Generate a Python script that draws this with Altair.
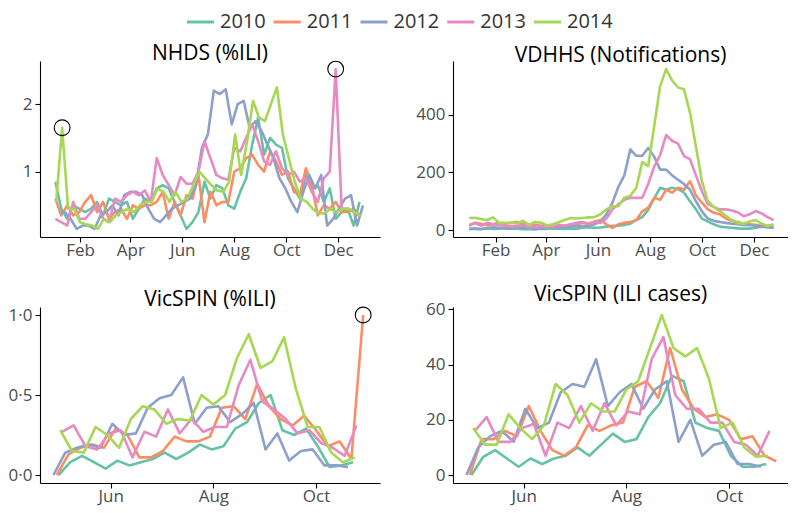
import altair as alt
import pandas as pd

YEARS = ["2010", "2011", "2012", "2013", "2014"]
COLORS = ["#66c2a5", "#fc8d62", "#8da0cb", "#e78ac3", "#a6d854"]

# ---------------- NHDS (%ILI), weekly from early January ----------------
nhds_2010 = [0.85,0.45,0.30,0.50,0.45,0.40,0.45,0.55,0.35,0.60, 0.55,0.50,0.55,0.30,0.45,0.60,0.55,0.75,0.80,0.75,
             0.55,0.35,0.15,0.25,0.40,0.85,0.60,0.80,0.75,0.50, 0.45,0.70,0.90,1.40,1.80,1.25,1.50,1.40,1.35,0.90,
             0.75,0.60,0.95,0.75,0.80,0.55,0.75,0.30,0.40,0.45, 0.20,0.55]
nhds_2011 = [0.60,0.35,0.50,0.35,0.40,0.55,0.65,0.40,0.55,0.30, 0.40,0.45,0.30,0.50,0.45,0.50,0.50,0.55,0.70,0.30,
             0.55,0.35,0.65,0.60,0.95,0.25,0.70,0.50,0.55,0.55, 1.00,1.05,1.20,1.25,1.10,1.00,1.30,1.15,0.95,1.00,
             0.70,0.65,1.05,0.80,0.35,0.50,0.45,0.55,0.40,0.40, 0.45,0.35]
nhds_2012 = [0.40,0.40,0.30,0.15,0.20,0.20,0.15,0.35,0.40,0.50, 0.35,0.65,0.70,0.70,0.65,0.45,0.30,0.25,0.35,0.45,
             0.50,0.55,0.60,0.80,1.35,1.55,2.20,2.15,2.22,1.70, 2.00,2.05,1.65,1.75,1.60,1.40,1.20,0.90,0.75,0.55,
             0.40,0.70,0.95,0.75,0.95,0.20,0.30,0.45,0.60,0.65, 0.20,0.50]
nhds_2013 = [0.30,0.25,0.20,0.55,0.30,0.30,0.40,0.50,0.30,0.25, 0.60,0.55,0.65,0.70,0.65,0.72,0.55,1.20,0.95,0.80,
             0.65,0.92,0.82,0.82,1.00,1.45,1.20,0.95,0.90,0.88, 1.35,1.30,1.50,1.70,1.45,1.15,1.10,1.30,1.05,0.95,
             1.00,0.85,0.90,0.70,0.55,0.90,1.00,2.52,0.45,0.45, 0.40,0.35]
nhds_2014 = [0.55,1.65,0.45,0.45,0.25,0.22,0.20,0.15,0.30,0.25, 0.35,0.40,0.45,0.40,0.50,0.55,0.55,0.75,0.70,0.55,
             0.70,0.55,0.60,0.80,1.00,0.90,0.80,0.72,0.70,0.85, 1.55,0.95,1.45,2.05,1.80,1.75,2.00,2.25,1.55,1.20,
             0.85,0.60,0.55,0.45,0.38,0.38,0.45,0.40,0.45,0.45, 0.40,0.35]

# ---------------- VDHHS (notifications), weekly from January ----------------
vd_2010 = [3,5,4,6,4,5,8,6,5,3, 4,2,5,4,6,5,4,6,5,8, 10,8,9,12,15,15,18,22,35,45,
           70,110,147,140,147,142,130,100,72,40, 30,20,12,10,8,6,5,5,8,12, 15,15]
vd_2011 = [15,25,22,18,20,25,22,25,28,22, 20,18,15,12,10,12,15,18,20,25, 22,30,35,20,8,20,25,28,35,65,
           78,112,105,140,130,147,140,170,120,95, 72,60,55,40,32,28,22,20,18,15, 10,8]
vd_2012 = [5,5,3,8,10,8,5,5,8,10, 8,6,5,8,10,8,10,12,15,12, 15,20,30,55,95,150,190,280,258,258,
           285,255,210,210,190,175,160,140,100,65, 40,32,28,25,22,20,18,17,15,12, 10,8]
vd_2013 = [18,25,15,25,20,18,15,12,15,18, 10,12,15,10,12,18,15,20,25,28, 20,28,25,40,72,90,105,112,112,112,
           160,220,260,330,310,300,257,246,190,135, 90,80,72,72,68,62,48,55,66,58, 45,35]
vd_2014 = [42,43,38,35,44,25,25,25,24,32, 18,28,26,17,20,27,35,42,40,42, 44,45,55,72,83,83,112,118,147,236,
           222,360,500,559,520,495,489,408,290,170, 100,80,66,50,35,25,22,30,35,22, 14,20]

# ---------------- VicSPIN (%ILI), weekly from late April ----------------
vp_2010 = [0.00,0.08,0.12,0.08,0.04,0.09,0.06,0.08,0.10,0.14,0.10,0.14,0.19,0.16,0.18,0.29,0.33,0.45,0.50,0.28,0.25,0.29,0.18,0.05,0.06,0.08]
vp_2011 = [0.00,0.13,0.17,0.19,0.17,0.29,0.25,0.11,0.11,0.15,0.24,0.21,0.21,0.24,0.42,0.43,0.35,0.57,0.43,0.35,0.31,0.37,0.28,0.18,0.21,0.10,1.00]
vp_2012 = [0.00,0.14,0.17,0.19,0.17,0.32,0.25,0.26,0.42,0.48,0.50,0.61,0.32,0.42,0.43,0.33,0.38,0.45,0.16,0.26,0.09,0.15,0.16,0.06,0.06,0.05]
vp_2013 = [0.27,0.31,0.18,0.16,0.26,0.28,0.11,0.27,0.24,0.41,0.26,0.35,0.27,0.30,0.30,0.56,0.72,0.46,0.41,0.35,0.26,0.28,0.20,0.17,0.12,0.31]
vp_2014 = [0.28,0.15,0.14,0.30,0.25,0.17,0.35,0.43,0.41,0.32,0.35,0.34,0.50,0.44,0.50,0.73,0.88,0.67,0.71,0.86,0.54,0.30,0.30,0.14,0.08,0.11]

# ---------------- VicSPIN (ILI cases) ----------------
vc_2010 = [0,6.6,9,6,3,6,4,6,7,10,7,11,15,12,13,21,26,36,34,19,17,16,7,3,3,4]
vc_2011 = [0,13,13,16,14,25,16,9,7,10,18,16,18,19,32,34,28,46,31,24,21,22,20,13,14,7,5]
vc_2012 = [0,10,14,16,12,24,17,19,30,33,32,42,25,30,33,24,31,34,12,20,7,11,12,4,4,3]
vc_2013 = [16,21,12,12,17,18.5,7,19,17,25,16,26,18,23,22,42,50,29,24,24,19,19,12,11,7,16]
vc_2014 = [17,11,11,22,17,13,18,33,29,19,26,23,23,31,34,46,58,46,43,46,35,17,19,10,6.6,7]

# first week of each series (day offsets per year)
NHDS_START, NHDS_OFF = "2001-01-03", {"2012": 4, "2014": 1}
VD_START, VD_OFF = "2001-01-01", {}
VS_START, VS_OFF = "2001-04-28", {"2010": 3, "2011": 2, "2013": 5, "2014": 4}

# highlighted outliers: (year, week index)
NHDS_MARK = [("2014", 1), ("2013", 47)]
VP_MARK = [("2011", 26)]

COLOR_SCALE = alt.Scale(domain=YEARS, range=COLORS)


def frame(series, start, offs):
    rows = []
    for y in YEARS:
        base = pd.Timestamp(start) + pd.Timedelta(days=offs.get(y, 0))
        for i, v in enumerate(series[y]):
            rows.append({"date": base + pd.Timedelta(days=7 * i), "value": v, "year": y, "wk": i})
    return pd.DataFrame(rows)


def dt(y, m, d):
    return alt.DateTime(year=y, month=m, date=d)


def panel(df, title, xdom, xticks, ydom, yticks, width, marks=None, dot=False):
    color = alt.Color("year:N", scale=COLOR_SCALE, legend=None)
    x = alt.X("date:T", scale=alt.Scale(domain=xdom, nice=False),
              axis=alt.Axis(values=xticks, format="%b", title=None, grid=False))
    yaxis = dict(values=yticks, title=None, grid=False)
    if dot:
        yaxis["labelExpr"] = "replace(format(datum.value, '.1f'), '.', '\u00b7')"
    y = alt.Y("value:Q", scale=alt.Scale(domain=ydom, nice=False, zero=False), axis=alt.Axis(**yaxis))
    lines = alt.Chart(df).mark_line(strokeWidth=2.6, strokeJoin="round").encode(x=x, y=y, color=color)
    layers = [lines]
    if marks:
        sel = pd.concat([df[(df.year == yr) & (df.wk == k)] for yr, k in marks])
        layers.append(alt.Chart(sel).mark_point(shape="circle", filled=False, color="black",
                                                size=250, strokeWidth=1.1, opacity=1).encode(x=x, y=y))
    return alt.layer(*layers).properties(width=width, height=176, title=title)


nhds = frame(dict(zip(YEARS, [nhds_2010, nhds_2011, nhds_2012, nhds_2013, nhds_2014])), NHDS_START, NHDS_OFF)
vd = frame(dict(zip(YEARS, [vd_2010, vd_2011, vd_2012, vd_2013, vd_2014])), VD_START, VD_OFF)
vp = frame(dict(zip(YEARS, [vp_2010, vp_2011, vp_2012, vp_2013, vp_2014])), VS_START, VS_OFF)
vc = frame(dict(zip(YEARS, [vc_2010, vc_2011, vc_2012, vc_2013, vc_2014])), VS_START, VS_OFF)

year_ticks = [dt(2001, m, 1) for m in (2, 4, 6, 8, 10, 12)]
win_ticks = [dt(2001, m, 1) for m in (6, 8, 10)]

p1 = panel(nhds, "NHDS (%ILI)", [dt(2000, 12, 16), dt(2002, 1, 19)], year_ticks, [0.03, 2.64], [1, 2], 340, NHDS_MARK)
p2 = panel(vd, "VDHHS (Notifications)", [dt(2000, 12, 13), dt(2002, 1, 10)], year_ticks, [-24, 587], [0, 200, 400], 335)
p3 = panel(vp, "VicSPIN (%ILI)", [dt(2001, 4, 20), dt(2001, 11, 8)], win_ticks, [-0.05, 1.05], [0, 0.5, 1.0], 340, VP_MARK, dot=True)
p4 = panel(vc, "VicSPIN (ILI cases)", [dt(2001, 4, 20), dt(2001, 11, 5)], win_ticks, [-2.9, 60.9], [0, 20, 40, 60], 335)

grid = alt.concat(p1, p2, p3, p4, columns=2, spacing={"row": 26, "column": 35})

# legend row: a stroke and a label for each year, placed by a point scale
legend_df = pd.DataFrame({"year": YEARS})
lx = alt.X("year:N", scale=alt.Scale(type="point", domain=YEARS, range=[147, 494], padding=0), axis=None)
leg_lines = alt.Chart(legend_df).mark_rule(strokeWidth=3, x2Offset=27).encode(
    x=lx, x2=alt.X2("year:N"), y=alt.value(13), color=alt.Color("year:N", scale=COLOR_SCALE, legend=None))
leg_text = alt.Chart(legend_df).mark_text(align="left", baseline="middle", dx=33, fontSize=20,
                                          font="Open Sans", color="#333333").encode(
    x=lx, y=alt.value(13), text="year:N")
legend = alt.layer(leg_lines, leg_text).properties(width=620, height=20)

chart = alt.vconcat(legend, grid, spacing=10).properties(
    padding={"top": 1, "left": 0, "right": 0, "bottom": 2}
).configure_view(strokeWidth=0).configure_axis(
    domainColor="black", domainWidth=1.1, tickColor="black", tickSize=5, tickWidth=1.1,
    labelFont="Open Sans", labelFontSize=17, labelColor="#4d4d4d"
).configure_axisX(labelPadding=0).configure_axisY(labelPadding=3).configure_title(
    font="Open Sans", fontSize=21, fontWeight="normal", color="black", anchor="middle", offset=-5
)

chart.save("out.html", embed_options={"renderer": "svg", "actions": False})
